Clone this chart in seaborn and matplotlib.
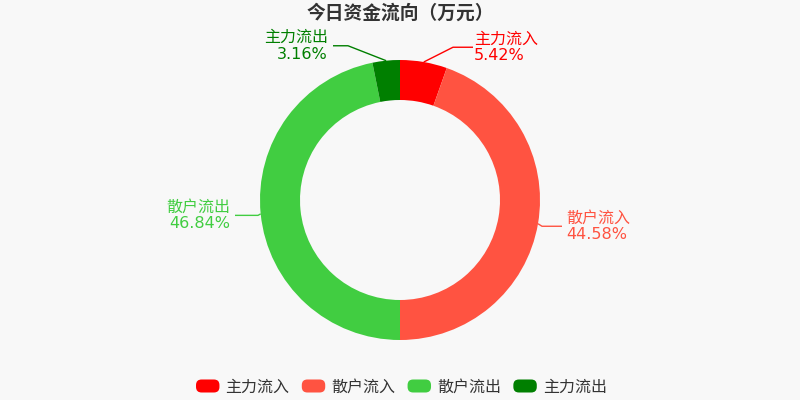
import numpy as np
import matplotlib
matplotlib.use("Agg")
import matplotlib.pyplot as plt
import seaborn as sns
from matplotlib.patches import FancyBboxPatch, Patch
from matplotlib.legend_handler import HandlerPatch

# ---- data ----
title = "今日资金流向（万元）"
categories = ["主力流入", "散户流入", "散户流出", "主力流出"]
values = [5.42, 44.58, 46.84, 3.16]
pct_labels = ["5.42%", "44.58%", "46.84%", "3.16%"]
colors = ["#FF0000", "#FF5341", "#41CD41", "#007F00"]

# ---- layout (pixels, image coords: y down) ----
W, H = 800, 400
CX, CY = 400, 200
R_OUT, R_IN = 140, 100
ELBOW_R = 155
label_layout = [
    dict(elbow_x=453, end_x=473, text_x=474, side="right"),
    dict(elbow_x=542, end_x=562, text_x=566, side="right"),
    dict(elbow_x=258, end_x=235, text_x=230, side="left"),
    dict(elbow_x=348, end_x=333, text_x=328, side="left"),
]

sns.set_theme(style="white", rc={"figure.facecolor": "#F8F8F8",
                                 "axes.facecolor": "#F8F8F8"})
plt.rcParams["font.family"] = ["DejaVu Sans", "Noto Sans CJK SC"]
palette = sns.color_palette(colors)

fig = plt.figure(figsize=(W / 100, H / 100), dpi=100)
fig.patch.set_facecolor("#F8F8F8")
ax = fig.add_axes([0, 0, 1, 1])
ax.set_facecolor("#F8F8F8")


def Y(py):
    return H - py


wedges, _ = ax.pie(values, colors=palette, startangle=90, counterclock=False,
                   radius=R_OUT, center=(CX, Y(CY)),
                   wedgeprops=dict(width=R_OUT - R_IN, linewidth=0))
ax.set_xlim(0, W)
ax.set_ylim(0, H)
ax.set_aspect("equal")
ax.axis("off")

# labels with leader lines
total = float(sum(values))
cum = 0.0
for i, v in enumerate(values):
    mid = (cum + v / 2) / total * 2 * np.pi  # clockwise from top
    cum += v
    ex, ey = CX + R_OUT * np.sin(mid), CY - R_OUT * np.cos(mid)
    by = CY - ELBOW_R * np.cos(mid)
    lay = label_layout[i]
    col = palette[i]
    ax.plot([ex, lay["elbow_x"], lay["end_x"]], [Y(ey), Y(by), Y(by)],
            color=col, lw=1, solid_capstyle="butt")
    ha = "left" if lay["side"] == "right" else "right"
    ax.text(lay["text_x"], Y(by - 8), categories[i], color=col, ha=ha,
            va="center", fontsize=11.5)
    ax.text(lay["text_x"], Y(by + 8.5), pct_labels[i], color=col, ha=ha,
            va="center", fontsize=11.5)

# title
fig.text(0.5, 1 - 13 / H, title, ha="center", va="center", fontsize=13.5,
         fontweight="bold", color="#333333")


class RoundHandler(HandlerPatch):
    def create_artists(self, legend, orig_handle, xdescent, ydescent,
                       width, height, fontsize, trans):
        p = FancyBboxPatch((-xdescent + 2, -ydescent), width - 4, height,
                           boxstyle="round,pad=0,rounding_size=4",
                           facecolor=orig_handle.get_facecolor(),
                           edgecolor="none", transform=trans)
        return [p]


handles = [Patch(facecolor=c) for c in palette]
fs = 11.5
leg = fig.legend(handles, categories, loc="center", ncol=4,
                 bbox_to_anchor=(0.5, 1 - 387 / H), frameon=False,
                 fontsize=fs, handlelength=29 / (fs * 100 / 72),
                 handleheight=14 / (fs * 100 / 72),
                 handletextpad=0.2, columnspacing=0.6,
                 handler_map={Patch: RoundHandler()})
for t in leg.get_texts():
    t.set_color("#333333")

fig.savefig("out.png", dpi=100, facecolor=fig.get_facecolor())
